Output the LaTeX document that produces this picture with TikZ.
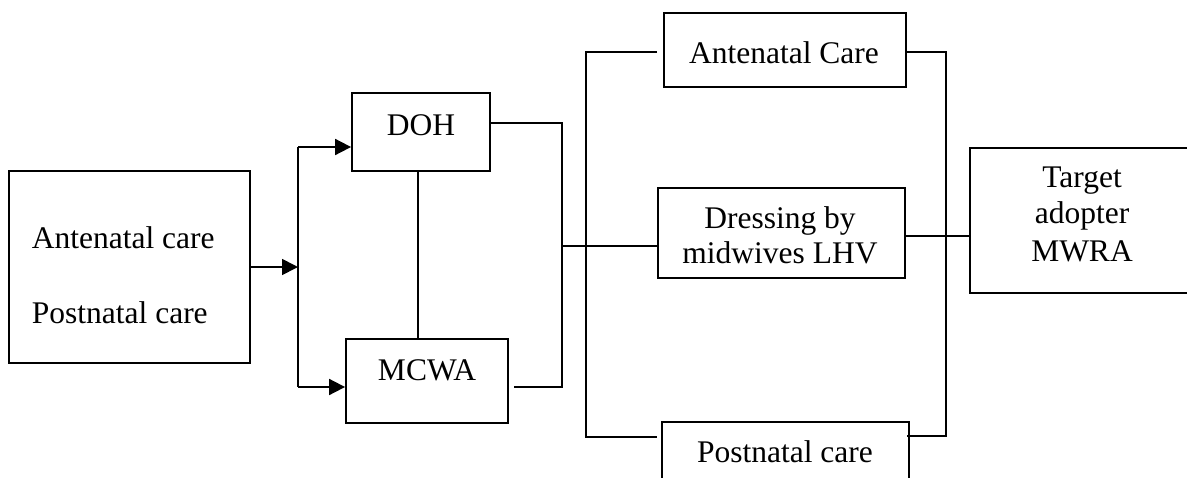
\documentclass[tikz,border=0pt]{standalone}
\usepackage{fontspec}
\setmainfont{Liberation Serif}
\usetikzlibrary{arrows.meta,calc}
\begin{document}
\begin{tikzpicture}[x=1pt,y=-1pt, line width=1.8pt,
  frame/.style={draw, inner sep=0pt, anchor=center},
  lbl/.style={anchor=base, inner sep=0pt, font=\fontsize{31.5}{36}\selectfont},
  lbll/.style={lbl, anchor=base west},
  arr/.style={-{Triangle[length=16pt,width=16pt]}}
]
\useasboundingbox (0,0) rectangle (1187,477);
\clip (0,0) rectangle (1187,477);

% boxes
\node[frame, minimum width=241pt, minimum height=192pt] (src) at (129.5,267) {};
\node[frame, minimum width=138pt, minimum height=78pt]  (doh) at (421,132) {};
\node[frame, minimum width=162pt, minimum height=84pt]  (mcwa) at (427,381) {};
\node[frame, minimum width=242pt, minimum height=74pt]  (anc) at (785,50) {};
\node[frame, minimum width=247pt, minimum height=90pt]  (drs) at (781.5,233) {};
\node[frame, minimum width=247pt, minimum height=90pt]  (pnc) at (785.5,467) {};
\node[frame, minimum width=240pt, minimum height=145pt] (tgt) at (1090,220.5) {};

% texts
\node[lbll] (t1) at (31,248) {Antenatal care};
\node[lbll] (t2) at (31,323) {Postnatal care};
\node[lbl] (t3) at (421,135) {DOH};
\node[lbl] (t4) at (427,380) {MCWA};
\node[lbl] (t5) at (784,63) {Antenatal Care};
\node[lbl] (t6) at (780,228) {Dressing by};
\node[lbl] (t7) at (780,263) {midwives LHV};
\node[lbl] (t8) at (785,462) {Postnatal care};
\node[lbl] (t9) at (1082,187) {Target};
\node[lbl] (t10) at (1082,223) {adopter};
\node[lbl] (t11) at (1082,261) {MWRA};

% junction points of the vertical bars
\coordinate (s1t) at (298,147);
\coordinate (s1b) at (298,387);
\coordinate (b1t) at (562,123);
\coordinate (b1b) at (562,387);
\coordinate (b2t) at (586,52);
\coordinate (b2b) at (586,437);
\coordinate (b3t) at (946,52);
\coordinate (b3b) at (946,436);

% split to DOH and MCWA
\draw[arr] (src.east) -- (src.east -| s1t);
\draw (s1t) -- (s1b);
\draw[arr] (s1t) -- (s1t -| doh.west);
\draw[arr] (s1b) -- (s1b -| mcwa.west);
\draw ([xshift=-3pt]doh.south) -- ([xshift=-3pt]doh.south |- mcwa.north);

% DOH and MCWA merge into the first bar
\draw (doh.east |- b1t) -- (b1t) -- (b1b) -- ([xshift=5pt]mcwa.east |- b1b);
\draw ([yshift=-13pt]drs.west -| b1t) -- ([yshift=-13pt]drs.west);

% second bar feeding the three services
\draw ([xshift=-6pt]anc.west |- b2t) -- (b2t) -- (b2b) -- ([xshift=-4pt]pnc.west |- b2b);

% right bar to the target adopter
\draw (anc.east |- b3t) -- (b3t) -- (b3b) -- ([xshift=-3pt]pnc.east |- b3b);
\draw ([yshift=-3pt]drs.east) -- ([yshift=-3pt]drs.east -| tgt.west);
\end{tikzpicture}
\end{document}
